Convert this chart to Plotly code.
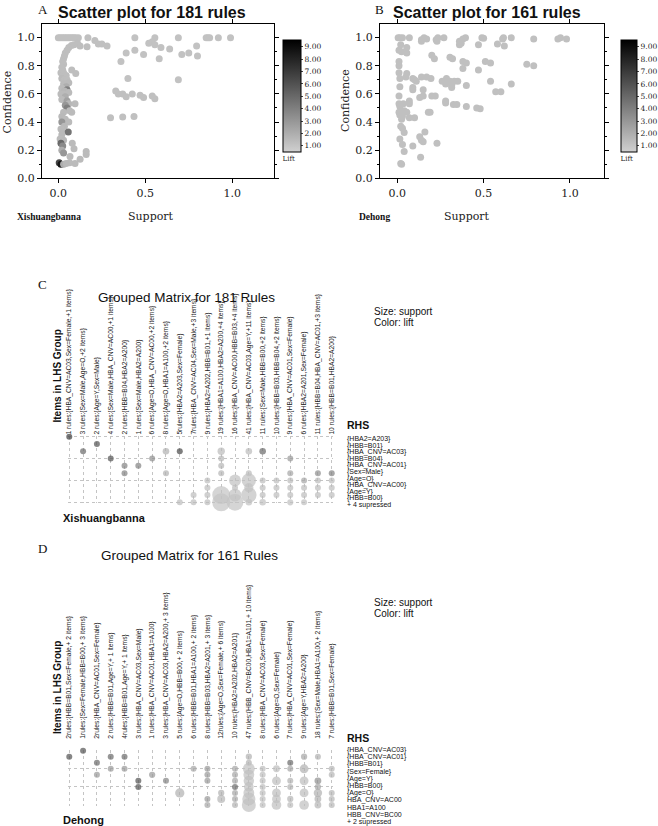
import plotly.graph_objects as go

W, H = 658, 826
def fx(px): return px / W
def fy(py): return 1 - py / H

# ---------------- Panel A : Xishuangbanna scatter (181 rules) ----------------
a_support = [0.00,0.01,0.02,0.03,0.04,0.05,0.06,0.07,0.08,0.09,0.10,0.115,0.17,0.44,0.555,0.69,0.85,0.86,0.87,0.92,0.99,
             0.21,0.23,0.25,0.28,0.52,0.54,0.555,0.59,0.64,0.795,0.39,0.44,0.49,0.71,0.75,0.80,0.36,0.58,0.40,0.69,
             0.33,0.345,0.37,0.39,0.425,0.47,0.49,0.54,0.555,0.30,0.37,0.435,
             0.11,0.125,0.165,0.09,0.075,0.06,0.05,0.04,0.035,0.03,0.025,0.03,0.02,0.025,0.077,0.10,0.015,0.03,0.045,
             0.02,0.035,0.05,0.06,0.03,0.045,0.02,0.05,0.035,0.015,0.03,0.06,0.04,0.02,0.05,0.06,0.096,0.04,0.05,
             0.065,0.077,0.03,0.02,0.04,0.06,0.02,0.035,0.015,0.025,0.057,0.02,0.01,0.03,0.015,0.025,0.08,0.09,
             0.02,0.03,0.067,0.125,0.16,0.16,0.096,0.065,0.005,0.015,0.03,0.045]
a_confidence = [1.00,1.00,1.00,1.00,1.00,1.00,1.00,1.00,1.00,1.00,1.00,1.00,1.00,1.00,1.00,1.00,1.00,1.00,1.00,1.00,1.00,
                0.98,0.955,0.955,0.94,0.96,0.97,0.95,0.93,0.92,0.94,0.89,0.91,0.88,0.88,0.89,0.87,0.83,0.85,0.71,0.70,
                0.62,0.60,0.60,0.58,0.60,0.59,0.575,0.585,0.565,0.43,0.435,0.44,
                0.96,0.94,0.935,0.95,0.945,0.93,0.91,0.89,0.87,0.85,0.83,0.81,0.79,0.77,0.77,0.745,0.75,0.75,0.73,
                0.71,0.70,0.70,0.68,0.67,0.65,0.64,0.63,0.62,0.60,0.60,0.61,0.58,0.56,0.55,0.53,0.53,0.52,0.50,
                0.48,0.47,0.47,0.44,0.42,0.40,0.40,0.37,0.35,0.33,0.33,0.31,0.28,0.27,0.25,0.23,0.25,0.21,
                0.20,0.18,0.155,0.135,0.19,0.17,0.105,0.11,0.11,0.10,0.10,0.105]
a_lift = [1.2]*13 + [1.1]*8 + [1.2]*4 + [1.1]*16 + [1.2]*12 + \
         [1.3,1.3,1.3,1.3,1.3,1.3,1.3,1.3,1.3,1.3,1.3,1.3,1.3,1.3,1.3,1.3,1.3,1.3,1.3,
          1.4,1.3,1.3,1.4,1.4,2.0,1.4,4.0,1.6,1.4,1.4,1.4,2.0,1.4,2.5,1.6,1.4,3.0,4.0,
          1.4,1.4,1.4,1.5,1.4,1.4,3.0,1.5,1.4,1.5,4.5,1.5,1.4,1.5,5.0,3.5,1.4,1.4,
          2.0,3.0,1.4,1.4,1.4,1.4,1.4,1.4,6.5,8.5,2.0,1.5]

# ---------------- Panel B : Dehong scatter (161 rules) ----------------
b_support = [0.005,0.015,0.03,0.07,0.14,0.155,0.17,0.225,0.235,0.27,0.36,0.38,0.395,0.49,0.50,0.61,0.615,0.66,0.79,0.93,0.945,0.98,
             0.14,0.23,0.37,0.36,0.47,0.58,0.62,0.02,0.055,0.01,0.025,0.055,
             0.20,0.215,0.305,0.32,0.38,0.40,0.51,0.54,0.75,0.79,0.01,0.01,0.38,0.47,
             0.01,0.055,0.015,0.05,0.09,0.14,0.17,0.195,0.11,0.285,0.26,0.305,0.33,0.35,0.28,0.315,0.315,0.54,0.66,0.40,0.10,
             0.015,0.09,0.09,0.15,0.01,0.13,0.15,0.20,0.22,0.57,0.60,0.07,0.28,0.28,
             0.01,0.035,0.015,0.07,0.325,0.345,0.40,0.46,0.48,0.18,0.19,0.01,0.025,0.055,0.07,0.10,0.015,0.025,0.04,0.03,
             0.02,0.03,0.04,0.16,0.13,0.14,0.15,0.015,0.03,0.09,0.23,0.04,0.135,0.02,0.025]
b_confidence = [1.0,1.0,1.0,1.0,0.985,1.0,0.99,0.985,1.0,1.0,0.975,0.99,1.0,1.0,0.995,0.99,1.0,1.0,0.99,0.99,1.0,0.99,
                0.975,0.975,0.96,0.95,0.95,0.955,0.94,0.95,0.93,0.91,0.90,0.89,
                0.875,0.85,0.86,0.85,0.83,0.82,0.83,0.82,0.81,0.80,0.83,0.80,0.78,0.77,
                0.75,0.745,0.71,0.72,0.71,0.72,0.72,0.71,0.69,0.71,0.69,0.69,0.69,0.69,0.67,0.66,0.645,0.69,0.67,0.66,0.70,
                0.65,0.645,0.63,0.63,0.585,0.575,0.585,0.585,0.585,0.615,0.615,0.55,0.55,0.535,
                0.53,0.53,0.51,0.53,0.525,0.525,0.51,0.50,0.495,0.47,0.47,0.47,0.46,0.47,0.43,0.43,0.45,0.42,0.48,0.44,
                0.37,0.355,0.325,0.33,0.295,0.27,0.26,0.28,0.24,0.23,0.25,0.19,0.15,0.105,0.10]
b_lift = [1.2]*len(b_support)

# ---------------- Panel C : grouped matrix, 181 rules ----------------
c_lhs = ["1 rules:{HBA_CNV=AC03,Sex=Female,+1 items}", "3 rules:{Sex=Male,Age=O,+2 items}", "2 rules:{Age=Y,Sex=Male}",
         "4 rules:{Sex=Male,HBA_CNV=AC00,+1 items}", "2 rules:{HBB=B04,HBA2=A200}", "1 rules:{Sex=Male,HBA2=A200}",
         "6 rules:{Age=O,HBA_CNV=AC00,+2 items}", "8 rules:{Age=O,HBA1=A100,+2 items}", "5rules:{HBA2=A203,Sex=Female}",
         "7rules:{HBA_CNV=AC04,Sex=Male,+3 items}", "9 rules:{HBA2=A202,HBB=B01,+1 items}", "19 rules:{HBA1=A100,HBA2=A200,+4 items}",
         "16 rules:{HBA_CNV=AC00,HBB=B03,+4 items}", "41 rules:{HBA_CNV=AC03,Age=Y,+11 items}", "11 rules:{Sex=Male,HBB=B00,+2 items}",
         "10 rules:{HBB=B03,HBB=B04,+2 items}", "9 rules:{HBA_CNV=AC01,Sex=Female}", "6 rules:{HBA2=A201,Sex=Female}",
         "11 rules:{HBB=B04,HBA_CNV=AC01,+3 items}", "10 rules:{HBB=B01,HBA2=A200}"]
c_rhs = ["{HBA2=A203}", "{HBB=B01}", "{HBA_CNV=AC03}", "{HBB=B04}", "{HBA_CNV=AC01}", "{Sex=Male}",
         "{Age=O}", "{HBA_CNV=AC00}", "{Age=Y}", "{HBB=B00}"]
c_suppressed = "+ 4 supressed"
c_col = [1, 2, 3, 4, 5, 5, 6, 7, 8, 8, 9, 9, 10, 10, 11, 11, 11, 11,
         12, 12, 12, 12, 12, 12, 13, 13, 13, 13, 14, 14, 14, 14, 14, 14,
         15, 15, 15, 15, 15, 16, 16, 16, 17, 17, 17, 17, 17, 17, 18, 18, 18, 18,
         19, 19, 19, 19, 20, 20, 20, 20]
c_row = [1, 3, 2, 4, 5, 6, 5, 4, 3, 6, 3, 10, 9, 10, 7, 8, 9, 10,
         3, 4, 5, 6, 9, 10, 7, 8, 9, 10, 3, 6, 7, 8, 9, 10,
         3, 7, 8, 9, 10, 7, 8, 9, 4, 6, 7, 8, 9, 10, 7, 8, 9, 10,
         6, 7, 8, 9, 6, 7, 8, 9]
c_supp = [0.012, 0.03, 0.02, 0.02, 0.02, 0.02, 0.02, 0.02, 0.04, 0.03, 0.03, 0.015, 0.02, 0.02, 0.015, 0.015, 0.015, 0.02,
          0.05, 0.03, 0.03, 0.03, 0.30, 0.30, 0.13, 0.02, 0.15, 0.26, 0.04, 0.02, 0.19, 0.08, 0.22, 0.04,
          0.04, 0.03, 0.02, 0.02, 0.04, 0.02, 0.02, 0.03, 0.03, 0.03, 0.03, 0.03, 0.03, 0.035, 0.02, 0.02, 0.02, 0.03,
          0.03, 0.025, 0.02, 0.025, 0.025, 0.02, 0.02, 0.025]
c_lift = [7.0, 5.0, 6.0, 6.0, 4.0, 4.0, 4.0, 3.5, 2.0, 2.0, 6.5, 1.5, 1.5, 1.5, 1.5, 1.5, 1.5, 1.5,
          1.6, 1.8, 1.8, 1.8, 1.2, 1.2, 1.3, 1.5, 1.3, 1.2, 1.6, 1.6, 1.3, 1.3, 1.3, 1.3,
          5.0, 1.5, 1.5, 1.5, 1.4, 1.5, 1.5, 1.5, 3.0, 2.5, 1.6, 1.5, 1.5, 1.4, 2.5, 1.5, 1.5, 1.4,
          3.5, 1.6, 1.5, 1.5, 4.0, 1.6, 1.5, 1.5]

# ---------------- Panel D : grouped matrix, 161 rules ----------------
d_lhs = ["2rules:{HBB=B01,Sex=Female,+ 2 items}", "1rules:{Sex=Female,HBB=B00,+ 3 items}", "2rules:{HBA_CNV=AC01,Sex=Female}",
         "2 rules:{HBB=B01,Age=Y,+ 1 items}", "4rules:{HBB=B01,Age=Y,+ 1 items}", "3 rules:{HBA_CNV=AC03,Sex=Male}",
         "1 rules:{HBA_CNV=AC01,HBA1=A100}", "3 rules:{HBA_CNV=AC03,HBA2=A200,+ 3 items}", "5 rules:{Age=O,HBB=B00,+ 2 items}",
         "6 rules:{HBB=B01,HBA1=A100,+ 2 items}", "8 rules:{HBB=B03,HBA2=A201,+ 3 items}", "12rules:{Age=O,Sex=Female,+ 6 items}",
         "10 rules:{HBA2=A202,HBA2=A201}", "47 rules:{HBB_CNV=BC00,HBA1=A101,+ 10 items}", "8 rules:{HBA_CNV=AC03,Sex=Female}",
         "6 rules:{Age=O,Sex=Female}", "7 rules:{HBA_CNV=AC01,Sex=Female}", "9 rules:{Age=Y,HBA2=A200}",
         "18 rules:{Sex=Male,HBA1=A100,+ 2 items}", "7 rules:{HBB=B01,Sex=Female}"]
d_rhs = ["{HBA_CNV=AC03}", "{HBA_CNV=AC01}", "{HBB=B01}", "{Sex=Female}", "{Age=Y}", "{HBB=B00}",
         "{Age=O}", "HBA_CNV=AC00", "HBA1=A100", "HBB_CNV=BC00"]
d_suppressed = "+ 2 supressed"
d_col = [1, 2, 3, 3, 4, 4, 5, 5, 6, 6, 7, 8, 9, 10, 11, 11, 11, 11, 11, 12, 12,
         13, 13, 13, 13, 13, 13, 13, 14, 14, 14, 14, 14, 14, 14, 14, 14,
         15, 15, 15, 15, 15, 15, 15, 16, 16, 16, 16, 16, 17, 17, 17, 17, 17, 17,
         18, 18, 18, 18, 18, 19, 19, 19, 19, 19, 19, 20, 20, 20, 20, 20]
d_row = [2, 1, 3, 5, 2, 4, 2, 4, 6, 7, 5, 6, 8, 4, 4, 5, 6, 9, 10, 8, 9,
         4, 5, 6, 7, 8, 9, 10, 2, 3, 4, 5, 6, 7, 8, 9, 10,
         4, 5, 6, 7, 8, 9, 10, 4, 6, 8, 9, 10, 3, 4, 6, 7, 9, 10,
         2, 4, 6, 8, 10, 2, 6, 7, 8, 9, 10, 4, 5, 8, 9, 10]
d_supp = [0.02, 0.02, 0.025, 0.04, 0.025, 0.03, 0.025, 0.03, 0.02, 0.022, 0.05, 0.02, 0.11, 0.03, 0.02, 0.02, 0.02, 0.02, 0.02, 0.05, 0.08,
          0.018, 0.018, 0.018, 0.02, 0.018, 0.018, 0.02, 0.05, 0.03, 0.18, 0.15, 0.14, 0.12, 0.15, 0.22, 0.25,
          0.02, 0.018, 0.02, 0.018, 0.02, 0.02, 0.025, 0.06, 0.10, 0.10, 0.10, 0.12, 0.02, 0.04, 0.03, 0.03, 0.05, 0.03,
          0.05, 0.10, 0.10, 0.10, 0.12, 0.03, 0.06, 0.05, 0.09, 0.06, 0.06, 0.02, 0.02, 0.025, 0.025, 0.025]
d_lift = [6.0, 6.0, 5.0, 3.0, 5.0, 3.0, 5.0, 3.0, 6.0, 6.0, 3.0, 4.0, 2.0, 2.5, 3.0, 3.0, 3.0, 3.0, 2.5, 2.0, 1.8,
          2.5, 2.5, 2.5, 5.0, 2.5, 2.5, 2.0, 2.0, 2.0, 1.4, 1.4, 1.4, 1.4, 1.4, 1.3, 1.3,
          1.5, 1.5, 1.5, 1.5, 1.5, 1.5, 1.5, 1.5, 1.5, 1.5, 1.4, 1.4, 5.0, 2.5, 2.0, 2.0, 1.8, 1.6,
          2.5, 2.0, 1.5, 1.5, 1.4, 2.0, 3.5, 2.5, 2.0, 2.0, 1.8, 1.8, 1.8, 1.8, 1.8, 1.8]

# ---------------- Figure ----------------
SERIF = "DejaVu Serif"
SANS = "Liberation Sans"
fig = go.Figure()

fig.add_trace(go.Scatter(x=a_support, y=a_confidence, mode="markers", xaxis="x", yaxis="y",
                         marker=dict(size=7, color=a_lift, coloraxis="coloraxis", line=dict(width=0)),
                         showlegend=False))
fig.add_trace(go.Scatter(x=b_support, y=b_confidence, mode="markers", xaxis="x2", yaxis="y2",
                         marker=dict(size=7, color=b_lift, coloraxis="coloraxis2", line=dict(width=0)),
                         showlegend=False))

c_max = max(c_supp)
fig.add_trace(go.Scatter(x=[c_lhs[i - 1] for i in c_col], y=[c_rhs[j - 1] for j in c_row],
                         mode="markers", xaxis="x3", yaxis="y3", cliponaxis=False,
                         marker=dict(size=c_supp, sizemode="area", sizeref=2.0 * c_max / 18 ** 2, sizemin=3,
                                     color=c_lift, coloraxis="coloraxis3", line=dict(width=0)),
                         showlegend=False))
d_max = max(d_supp)
fig.add_trace(go.Scatter(x=[d_lhs[i - 1] for i in d_col], y=[d_rhs[j - 1] for j in d_row],
                         mode="markers", xaxis="x4", yaxis="y4", cliponaxis=False,
                         marker=dict(size=d_supp, sizemode="area", sizeref=2.0 * d_max / 14 ** 2, sizemin=3,
                                     color=d_lift, coloraxis="coloraxis3", line=dict(width=0)),
                         showlegend=False))

scatter_axis = dict(showline=True, linecolor="black", linewidth=1, mirror="allticks", ticks="outside",
                    ticklen=4, tickcolor="black", showgrid=False, zeroline=False,
                    tickfont=dict(family=SERIF, size=11, color="#222"), tickformat=".1f")

def cbar(xpx, thick):
    return dict(x=fx(xpx), xanchor="left", xref="paper", xpad=0, ypad=0,
                y=fy(102.5), yanchor="middle", len=125, lenmode="pixels", thickness=thick,
                outlinewidth=1, outlinecolor="black", tickvals=[1, 2, 3, 4, 5, 6, 7, 8, 9],
                tickformat=".2f", ticks="outside", ticklen=2, tickcolor="#444",
                tickfont=dict(family=SERIF, size=7.5, color="#222"),
                title=dict(text="Lift", side="bottom", font=dict(family=SERIF, size=7, color="#222")))

gray_scale = [[0, "#d0d0d0"], [1, "#000000"]]

matrix_x = dict(type="category", side="top", tickangle=-90, showgrid=True, gridcolor="#c4c4c4",
                griddash="dot", gridwidth=1, showline=False, zeroline=False, ticks="",
                tickfont=dict(family=SANS, size=6.7, color="#1a1a1a"), range=[-0.1, 19.1])
matrix_y = dict(type="category", showgrid=True, gridcolor="#c4c4c4", griddash="dot", gridwidth=1,
                showline=False, zeroline=False, showticklabels=False, ticks="", range=[9.15, -0.15])

fig.update_layout(
    width=W, height=H, margin=dict(l=0, r=0, t=0, b=0, autoexpand=False),
    paper_bgcolor="white", plot_bgcolor="white",
    xaxis=dict(scatter_axis, domain=[fx(42), fx(274)], range=[-0.094, 1.24], tickvals=[0, 0.5, 1.0], anchor="y"),
    yaxis=dict(scatter_axis, domain=[fy(178.3), fy(24)], range=[0, 1.097], dtick=0.2, anchor="x",
               minor=dict(dtick=0.1, ticks="outside", ticklen=2, tickcolor="black")),
    xaxis2=dict(scatter_axis, domain=[fx(380), fx(604)], range=[-0.1, 1.197], tickvals=[0, 0.5, 1.0], anchor="y2"),
    yaxis2=dict(scatter_axis, domain=[fy(178.3), fy(24)], range=[0, 1.097], dtick=0.2, anchor="x2",
                minor=dict(dtick=0.1, ticks="outside", ticklen=2, tickcolor="black")),
    xaxis3=dict(matrix_x, domain=[fx(67.9), fx(333.1)], anchor="y3", categoryorder="array",
                categoryarray=c_lhs, ticklabelstandoff=0),
    yaxis3=dict(matrix_y, domain=[fy(503.4), fy(435.6)], anchor="x3", categoryorder="array", categoryarray=c_rhs),
    xaxis4=dict(matrix_x, domain=[fx(67.9), fx(333.1)], anchor="y4", categoryorder="array",
                categoryarray=d_lhs, ticklabelstandoff=10),
    yaxis4=dict(matrix_y, domain=[fy(805.9), fy(749.8)], anchor="x4", categoryorder="array", categoryarray=d_rhs),
    coloraxis=dict(colorscale=gray_scale, cmin=0.5, cmax=9.55, colorbar=cbar(283, 18)),
    coloraxis2=dict(colorscale=gray_scale, cmin=0.5, cmax=9.55, colorbar=cbar(621, 16)),
    coloraxis3=dict(colorscale=[[0, "#c8c8c8"], [1, "#303030"]], cmin=1.0, cmax=7.5, showscale=False),
)

ann = []
def text(x, y, s, size, family=SANS, bold=False, xanchor="center", yanchor="middle", angle=0, color="#111"):
    if bold:
        s = "<b>" + s + "</b>"
    ann.append(dict(x=fx(x), y=fy(y), xref="paper", yref="paper", text=s, showarrow=False,
                    xanchor=xanchor, yanchor=yanchor, textangle=angle,
                    font=dict(family=family, size=size, color=color)))

# panel letters and titles
text(43, 9, "A", 13, family="Liberation Serif")
text(379, 9, "B", 13, family="Liberation Serif")
text(152, 12, "Scatter plot for 181 rules", 16, bold=True)
text(487, 12, "Scatter plot for 161 rules", 16, bold=True)
text(7, 102.5, "Confidence", 11, family=SERIF, angle=-90, color="#222")
text(345, 101, "Confidence", 11, family=SERIF, angle=-90, color="#222")
text(151, 217, "Support", 11, family=SERIF, color="#222")
text(467, 217, "Support", 11, family=SERIF, color="#222")
text(15, 217, "Xishuangbanna", 9.5, family="Liberation Serif", bold=True, xanchor="left")
text(357, 217, "Dehong", 9.5, family="Liberation Serif", bold=True, xanchor="left")

text(42, 285, "C", 13, family="Liberation Serif")
text(42, 548, "D", 13, family="Liberation Serif")
text(186, 297, "Grouped Matrix for 181 Rules", 13.5)
text(189, 555, "Grouped Matrix for 161 Rules", 13.5)
text(57, 376.5, "Items in LHS Group", 10, bold=True, angle=-90)
text(57, 688, "Items in LHS Group", 10, bold=True, angle=-90)
text(372, 311.7, "Size: support", 10, xanchor="left")
text(372, 322.7, "Color: lift", 10, xanchor="left")
text(372, 602, "Size: support", 10, xanchor="left")
text(372, 613, "Color: lift", 10, xanchor="left")
text(345, 425, "RHS", 10.5, bold=True, xanchor="left")
text(345, 738, "RHS", 10.5, bold=True, xanchor="left")
for i, s in enumerate(c_rhs + [c_suppressed]):
    text(345, 439 + 6.6 * i, s, 7, xanchor="left")
for i, s in enumerate(d_rhs + [d_suppressed]):
    text(345, 750 + 7.17 * i, s, 7, xanchor="left")
text(61, 518, "Xishuangbanna", 11, bold=True, xanchor="left")
text(61, 820, "Dehong", 11, bold=True, xanchor="left")

fig.update_layout(annotations=ann)
fig.write_html("out.html", config={"displayModeBar": False},
               post_script="document.body.style.margin='0';document.body.style.padding='0';"
                           "document.body.style.overflow='hidden';")
